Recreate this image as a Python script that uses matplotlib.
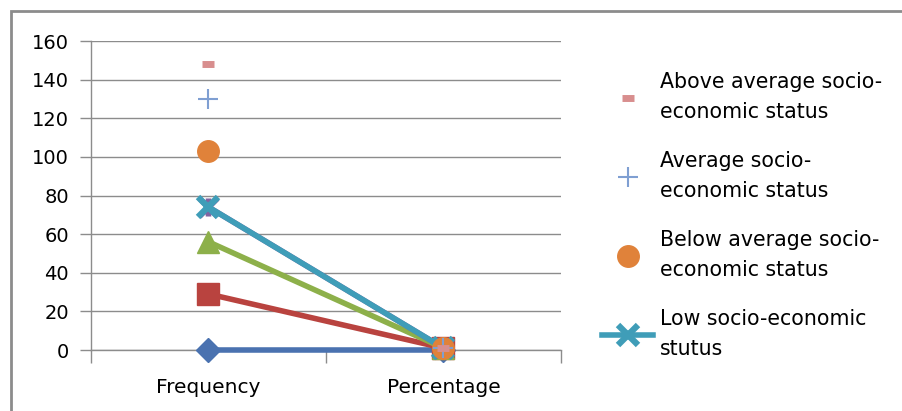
import matplotlib
matplotlib.use("Agg")
import matplotlib.pyplot as plt
from matplotlib.path import Path
from matplotlib.patches import Rectangle

plt.rcParams['font.family'] = ['DejaVu Sans']

categories = ["Frequency", "Percentage"]

# one series per status group; values read per category
low_line = [0, 0]
series_b = [29, 1]
series_c = [56, 1]
series_d = [74, 1]
low_status = [74, 1]
below_average = [103, 1]
average = [130, 1]
above_average = [148, 1]

y_ticks = [0, 20, 40, 60, 80, 100, 120, 140, 160]

# X with a vertical bar (Excel "star" marker)
star = Path([(-1, -1), (1, 1), (-1, 1), (1, -1), (0, -1), (0, 1)],
            [Path.MOVETO, Path.LINETO, Path.MOVETO, Path.LINETO, Path.MOVETO, Path.LINETO])

fig = plt.figure(figsize=(9.03, 4.11), dpi=100)
ax = fig.add_axes([91 / 903, 1 - 350 / 411, (561 - 91) / 903, (350 - 41) / 411])

x = [0, 1]
kw = dict(clip_on=False)
ax.plot(x, low_line, color="#4A72B0", lw=4, marker="D", ms=12.5, zorder=3, **kw)
ax.plot(x, series_b, color="#B9433F", lw=4, marker="s", ms=16, zorder=3, **kw)
ax.plot(x, series_c, color="#8DB04A", lw=4, marker="^", ms=15.5, zorder=3, **kw)
ax.plot(x, series_d, color="#8064A2", lw=4, marker=star, ms=13, mew=4, zorder=3, **kw)
h_low, = ax.plot(x, low_status, color="#3F9DB8", lw=4, marker="x", ms=14, mew=4.5, zorder=3, **kw)
h_below, = ax.plot(x, below_average, ls="none", color="#E0823A", marker="o", ms=15.5, zorder=4, **kw)
h_avg, = ax.plot(x, average, ls="none", color="#7F9FD2", marker="+", ms=15, mew=1.5, zorder=4, **kw)
h_above, = ax.plot(x, above_average, ls="none", color="#D88E8E", marker="_", ms=8.5, mew=5,
                   solid_capstyle="butt", zorder=4, **kw)

ax.set_xlim(-0.5, 1.5)
ax.set_ylim(0, 160)
ax.set_yticks(y_ticks)
ax.set_xticks([-0.5, 0.5, 1.5])
ax.set_xticklabels([])
for xi, lab in zip(x, categories):
    ax.text(xi, -14.5, lab, ha="center", va="top", fontsize=14.5)

ax.grid(axis="y", color="#8C8C8C", lw=1)
ax.set_axisbelow(True)
for side in ["top", "right"]:
    ax.spines[side].set_visible(False)
for side in ["left", "bottom"]:
    ax.spines[side].set_color("#8C8C8C")
    ax.spines[side].set_linewidth(1)
ax.tick_params(axis="y", colors="#8C8C8C", labelcolor="black", labelsize=14, length=8, width=1, pad=8)
ax.tick_params(axis="x", colors="#8C8C8C", length=9, width=1, direction="out")

leg = fig.legend([h_above, h_avg, h_below, h_low],
                 ["Above average socio-\neconomic status", "Average socio-\neconomic status",
                  "Below average socio-\neconomic status", "Low socio-economic\nstutus"],
                 loc="upper left", bbox_to_anchor=(602 / 903, 1 - 72 / 411), frameon=False,
                 fontsize=14.8, handlelength=2.5, handletextpad=0.3, labelspacing=1.42,
                 borderpad=0, borderaxespad=0)
for t in leg.get_texts():
    t.set_linespacing(1.62)

# chart border
fig.patches.append(Rectangle((11 / 903, -0.05), 1.0, 1 - 11 / 411 + 0.05, transform=fig.transFigure,
                             fill=False, edgecolor="#8C8C8C", lw=2))

fig.savefig("out.png", dpi=100)
